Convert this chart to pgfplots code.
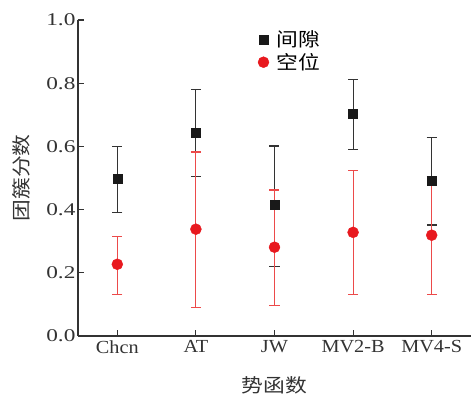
\documentclass[border=0pt]{standalone}
\usepackage{fontspec}
\setmainfont[FakeStretch=1.3]{Liberation Serif}
\newfontfamily\xfont[FakeStretch=1.1]{Liberation Serif}
\newfontfamily\cjk[FakeStretch=1.15]{Noto Sans CJK SC}
\usepackage{pgfplots}
\pgfplotsset{compat=1.18}
\definecolor{myred}{HTML}{E8191F}
\definecolor{myredbar}{HTML}{EC4A4A}
\definecolor{mygray}{HTML}{333333}
\begin{document}
\begin{tikzpicture}
\begin{axis}[
  name=ax,
  scale only axis,
  width=393bp, height=316bp,
  xmin=-0.5, xmax=4.5, ymin=0, ymax=1,
  axis lines=left,
  axis line style={-, mygray, line width=1.2pt},
  tick align=inside,
  major tick length=6bp,
  tick style={mygray, line width=1.1pt},
  xtick={0,1,2,3,4},
  xticklabels={Chcn,AT,JW,MV2-B,MV4-S},
  ytick={0,0.2,0.4,0.6,0.8,1.0},
  yticklabel style={/pgf/number format/fixed,/pgf/number format/fixed zerofill,/pgf/number format/precision=1},
  /pgf/number format/assume math mode=true,
  xticklabel style={font=\fontsize{18.5}{20}\selectfont\xfont, text=mygray, yshift=-1bp},
  yticklabel style={font=\fontsize{18}{20}\selectfont, text=mygray, xshift=1bp},
  xlabel={\cjk 势函数},
  ylabel={\cjk 团簇分数},
  label style={font=\fontsize{19}{21}\selectfont, text=mygray},
  xlabel style={at={(axis description cs:0.5,-0.155)}, anchor=center},
  ylabel style={at={(axis description cs:-0.145,0.5)}, anchor=center},
  legend style={at={(axis description cs:0.455,0.975)}, anchor=north west, draw=none, fill=none,
    font=\fontsize{19}{21}\selectfont\cjk, row sep=1pt, inner sep=1pt,
    /tikz/every odd column/.append style={column sep=6pt}},
  legend cell align=left,
  clip=false,
]
\addplot[only marks, mark=square*, mark size=4.5bp, color=black!90,
  error bars/.cd, y dir=both, y explicit,
  error bar style={mygray, line width=1.2pt},
  error mark options={rotate=90, mark size=5bp, mygray, line width=1.2pt}]
coordinates {
  (0,0.499) += (0,0.101) -= (0,0.107)
  (1,0.643) += (0,0.138) -= (0,0.137)
  (2,0.415) += (0,0.186) -= (0,0.195)
  (3,0.703) += (0,0.109) -= (0,0.114)
  (4,0.490) += (0,0.139) -= (0,0.139)
};
\addlegendentry{间隙}
\addplot[only marks, mark=*, mark size=5.5bp, color=myred,
  error bars/.cd, y dir=both, y explicit,
  error bar style={myredbar, line width=1.2pt},
  error mark options={rotate=90, mark size=5bp, myredbar, line width=1.2pt}]
coordinates {
  (0,0.227) += (0,0.089) -= (0,0.095)
  (1,0.338) += (0,0.244) -= (0,0.248)
  (2,0.281) += (0,0.181) -= (0,0.185)
  (3,0.328) += (0,0.195) -= (0,0.196)
  (4,0.319) += (0,0.185) -= (0,0.187)
};
\addlegendentry{空位}
\end{axis}
\pgfresetboundingbox
\path ([shift={(-78bp,-59bp)}]ax.south west) rectangle ([shift={(0bp,20bp)}]ax.north east);
\end{tikzpicture}
\end{document}
